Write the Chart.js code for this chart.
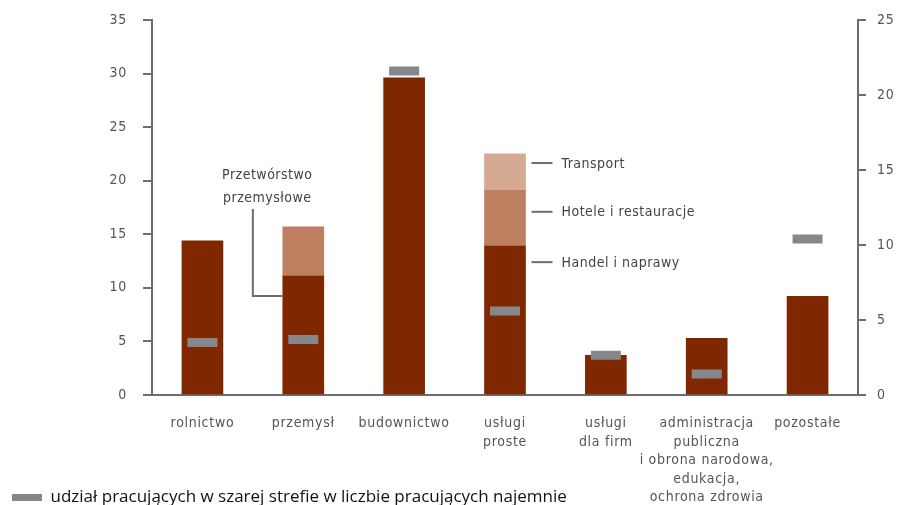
<!DOCTYPE html>
<html>
<head>
<meta charset="utf-8">
<script src="https://cdn.jsdelivr.net/npm/chart.js@4"></script>
<style>
html,body{margin:0;padding:0;background:#fff;}
#wrap{width:899px;height:505px;position:relative;}
</style>
</head>
<body>
<div id="wrap"><canvas id="c" width="899" height="505"></canvas></div>
<script>
// ---- data ----
const categories = [
  'rolnictwo',
  'przemysł',
  'budownictwo',
  ['usługi', 'proste'],
  ['usługi', 'dla firm'],
  ['administracja', 'publiczna', 'i obrona narodowa,', 'edukacja,', 'ochrona zdrowia'],
  'pozostałe'
];
// share in grey-economy employment (left axis, %), stacked parts
const baseSegment   = [14.4, 11.1, 29.6, 13.9, 3.7, 5.3, 9.2];   // dark (incl. Przetwórstwo przemysłowe, Handel i naprawy)
const middleSegment = [null, 4.6, null, 5.2, null, null, null]; // rest of industry / Hotele i restauracje
const topSegment    = [null, null, null, 3.4, null, null, null]; // Transport
// share of grey-economy workers among hired employees (right axis, %)
const greyShare     = [3.5, 3.7, 21.6, 5.6, 2.65, 1.4, 10.4];
const leftTickMax = 35, rightTickMax = 25, tickStep = 5;
const legendLabel = 'udział pracujących w szarej strefie w liczbie pracujących najemnie';
const subLabelsIndustry = ['Przetwórstwo', 'przemysłowe'];
const subLabelsServices = ['Transport', 'Hotele i restauracje', 'Handel i naprawy'];

const NARROW = '"Liberation Sans Narrow", "Arial Narrow", "DejaVu Sans Condensed", sans-serif';
const AXIS_GREY = '#6d6d6d';

const annotations = {
  id: 'annotations',
  afterLayout(chart) {
    const lg = chart.legend;
    if (lg) { const h = lg.height; lg.top = 477; lg.bottom = lg.top + h; }
  },
  beforeDraw(chart) {
    const ctx = chart.ctx;
    ctx.letterSpacing = '0.7px';
    const lg = chart.legend;
    if (lg && !lg._wrapped) {
      const d = lg.draw.bind(lg);
      lg.draw = function (a) {
        const prev = ctx.letterSpacing;
        ctx.letterSpacing = '0px';
        d(a);
        ctx.letterSpacing = prev;
      };
      lg._wrapped = true;
    }
  },
  afterDraw(chart) {
    const ctx = chart.ctx;
    const xs = chart.scales.x, ys = chart.scales.y;
    const bars = chart.getDatasetMeta(0).data;
    ctx.save();
    ctx.letterSpacing = '0.5px';
    ctx.font = '14px ' + NARROW;
    ctx.fillStyle = '#444';
    ctx.strokeStyle = AXIS_GREY;
    ctx.lineWidth = 2;
    // industry connector
    const c1 = xs.getPixelForValue(1);
    const half = (xs.getPixelForValue(1) - xs.getPixelForValue(0)) / 2;
    const bx = c1 - half;
    const barLeft = bars[1].x - bars[1].width / 2;
    ctx.beginPath();
    ctx.moveTo(bx, ys.getPixelForValue(17.35));
    ctx.lineTo(bx, ys.getPixelForValue(9.25));
    ctx.lineTo(barLeft, ys.getPixelForValue(9.25));
    ctx.stroke();
    ctx.textAlign = 'center';
    ctx.textBaseline = 'alphabetic';
    ctx.fillText(subLabelsIndustry[0], c1 - 36, ys.getPixelForValue(20.2));
    ctx.fillText(subLabelsIndustry[1], c1 - 36, ys.getPixelForValue(18.05));
    // services connectors
    const barRight = bars[3].x + bars[3].width / 2;
    const levels = [21.65, 17.1, 12.4];
    ctx.textAlign = 'left';
    ctx.textBaseline = 'middle';
    levels.forEach((v, i) => {
      const py = ys.getPixelForValue(v);
      ctx.beginPath();
      ctx.moveTo(barRight + 6, py);
      ctx.lineTo(barRight + 27, py);
      ctx.stroke();
      ctx.fillText(subLabelsServices[i], barRight + 36, py + 1);
    });
    ctx.restore();
  }
};

const xTickFont = { family: NARROW, size: 14, lineHeight: 1.33 };
const yTickFont = { family: NARROW, size: 14, lineHeight: 0.5 };

new Chart(document.getElementById('c'), {
  type: 'bar',
  data: {
    labels: categories,
    datasets: [
      { label: 'base', data: baseSegment, backgroundColor: '#7f2800', yAxisID: 'y', order: 1, barThickness: 41, borderWidth: 0 },
      { label: 'middle', data: middleSegment, backgroundColor: '#bd7f5f', yAxisID: 'y', order: 1, barThickness: 41, borderWidth: 0 },
      { label: 'top', data: topSegment, backgroundColor: '#d5aa92', yAxisID: 'y', order: 1, barThickness: 41, borderWidth: 0 },
      { type: 'line', label: legendLabel, data: greyShare, yAxisID: 'y2', order: 0,
        showLine: false, backgroundColor: '#86878b', borderColor: '#86878b', borderWidth: 0,
        pointStyle: 'line', pointRadius: 15, pointHoverRadius: 15,
        pointBorderWidth: 9, pointHoverBorderWidth: 9, pointBorderColor: '#86878b', pointBackgroundColor: '#86878b' }
    ]
  },
  options: {
    responsive: false,
    animation: false,
    events: [],
    layout: { autoPadding: false, padding: { top: 20, left: 0, right: 0, bottom: -39 } },
    plugins: {
      tooltip: { enabled: false },
      title: { display: false },
      legend: {
        display: true,
        position: 'bottom',
        align: 'start',
        labels: {
          filter: (item) => item.datasetIndex === 3,
          boxWidth: 30,
          boxHeight: 7,
          padding: 12,
          color: '#111',
          font: { family: '"Open Sans", sans-serif', size: 17 }
        }
      }
    },
    scales: {
      x: {
        stacked: true,
        grid: { display: true, drawOnChartArea: false, drawTicks: false },
        border: { display: true, color: AXIS_GREY, width: 2 },
        ticks: { color: '#555', font: xTickFont, padding: 19, maxRotation: 0, autoSkip: false },
        afterFit(s) { s.height = 110; }
      },
      y: {
        stacked: true,
        position: 'left',
        min: 0, max: leftTickMax,
        grid: { drawOnChartArea: false, drawTicks: true, tickLength: 9, color: AXIS_GREY, lineWidth: 2 },
        border: { display: true, color: AXIS_GREY, width: 2 },
        ticks: { stepSize: tickStep, color: '#555', font: yTickFont, padding: 16 },
        afterFit(s) { s.width = 152; }
      },
      y2: {
        position: 'right',
        min: 0, max: rightTickMax,
        grid: { drawOnChartArea: false, drawTicks: true, tickLength: 8, color: AXIS_GREY, lineWidth: 2 },
        border: { display: true, color: AXIS_GREY, width: 2 },
        ticks: { stepSize: tickStep, color: '#555', font: yTickFont, padding: 11 },
        afterFit(s) { s.width = 41; }
      }
    }
  },
  plugins: [annotations]
});
</script>
</body>
</html>
